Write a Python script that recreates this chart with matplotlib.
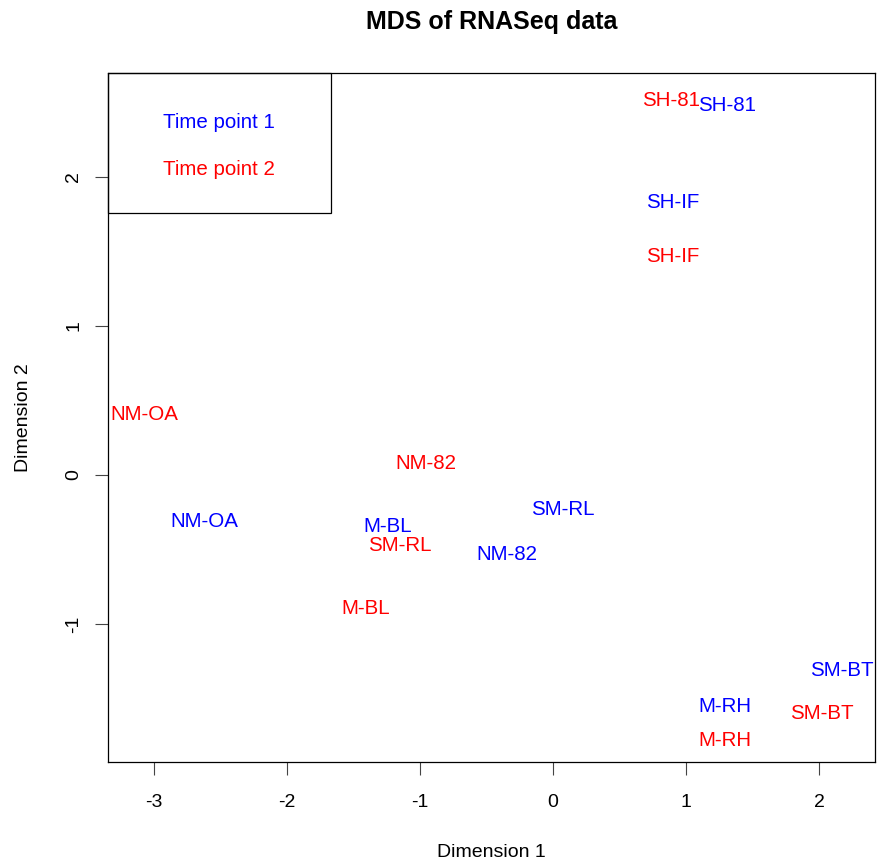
import matplotlib
matplotlib.use("Agg")
import matplotlib.pyplot as plt
from matplotlib.patches import Rectangle

plt.rcParams['font.family'] = ['Liberation Sans', 'DejaVu Sans']

# MDS coordinates per sample, two time points
tp1_labels = ["SH-81", "SH-IF", "NM-OA", "M-BL", "SM-RL", "NM-82", "SM-BT", "M-RH"]
tp1_x = [1.31, 0.90, -2.62, -1.24, 0.07, -0.35, 2.17, 1.29]
tp1_y = [2.49, 1.84, -0.30, -0.33, -0.22, -0.52, -1.30, -1.54]

tp2_labels = ["SH-81", "SH-IF", "NM-OA", "NM-82", "SM-RL", "M-BL", "SM-BT", "M-RH"]
tp2_x = [0.89, 0.90, -3.07, -0.96, -1.15, -1.41, 2.02, 1.29]
tp2_y = [2.53, 1.48, 0.42, 0.09, -0.46, -0.88, -1.59, -1.77]

legend_labels = ["Time point 1", "Time point 2"]
colors = ["#0000FF", "#FF0000"]

fig = plt.figure(figsize=(8.77, 8.63), dpi=100)
ax = fig.add_axes([108 / 877, 101 / 863, 767 / 877, 689 / 863])

ax.set_xlim(-3.346, 2.42)
ax.set_ylim(-1.926, 2.698)

fs = 14.8
for lab, x, y in zip(tp1_labels, tp1_x, tp1_y):
    ax.text(x, y, lab, color=colors[0], fontsize=fs, ha='center', va='center_baseline')
for lab, x, y in zip(tp2_labels, tp2_x, tp2_y):
    ax.text(x, y, lab, color=colors[1], fontsize=fs, ha='center', va='center_baseline')

# legend box in the upper-left corner
box_w = 223 / 767
box_h = 140 / 689
ax.add_patch(Rectangle((0, 1 - box_h), box_w, box_h, transform=ax.transAxes,
                       fill=False, edgecolor='black', linewidth=0.9, clip_on=False))
ax.text(55 / 767, 1 - 47 / 689, legend_labels[0], color=colors[0], fontsize=fs,
        ha='left', va='center_baseline', transform=ax.transAxes)
ax.text(55 / 767, 1 - 94 / 689, legend_labels[1], color=colors[1], fontsize=fs,
        ha='left', va='center_baseline', transform=ax.transAxes)

ax.set_xticks([-3, -2, -1, 0, 1, 2])
ax.set_yticks([-1, 0, 1, 2])
ax.set_xticklabels(["-3", "-2", "-1", "0", "1", "2"])
ax.set_yticklabels(["-1", "0", "1", "2"], rotation=90, va='center')
ax.tick_params(axis='both', length=9.5, width=0.8, color='#444444', labelsize=14)
ax.tick_params(axis='x', pad=13.5)
ax.tick_params(axis='y', pad=9)

for s in ax.spines.values():
    s.set_linewidth(0.9)

ax.set_xlabel("Dimension 1", fontsize=14, labelpad=24)
ax.set_ylabel("Dimension 2", fontsize=14, labelpad=24)
fig.suptitle("MDS of RNASeq data", fontsize=18, fontweight='bold', y=1 - 22 / 863,
             va='center', x=491.5 / 877)

fig.savefig("out.png", dpi=100)
